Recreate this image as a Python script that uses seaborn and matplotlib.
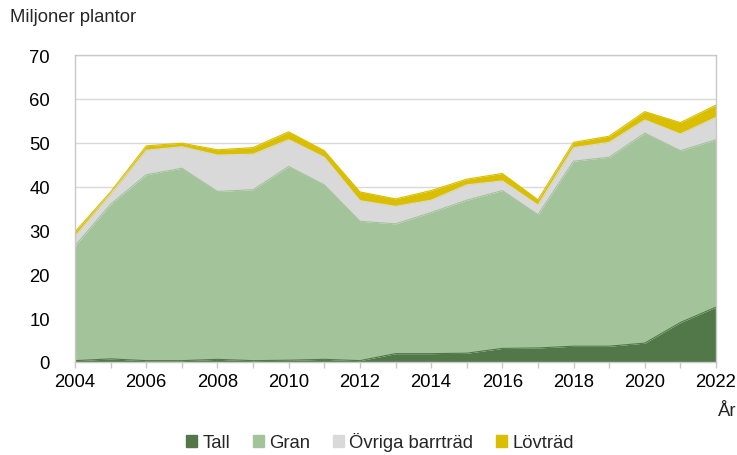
import numpy as np
import pandas as pd
import matplotlib
matplotlib.use("Agg")
import matplotlib.pyplot as plt
import matplotlib.patches as mpatches
import seaborn as sns

# data (miljoner plantor)
years = list(range(2004, 2023))
tall = [0.3, 0.7, 0.3, 0.3, 0.6, 0.3, 0.4, 0.6, 0.3, 1.9, 1.9, 2.0, 3.1, 3.2, 3.6, 3.6, 4.3, 9.0, 12.5]
gran = [26.2, 35.3, 42.4, 43.9, 38.3, 39.0, 44.2, 39.8, 31.8, 29.6, 32.2, 34.9, 36.0, 30.4, 42.2, 43.1, 47.9, 39.2, 38.2]
ovriga = [2.2, 2.2, 5.6, 4.9, 8.3, 8.1, 6.1, 6.3, 4.7, 4.0, 2.8, 3.5, 2.2, 2.2, 3.1, 3.4, 3.0, 3.8, 5.1]
lovtrad = [1.0, 0.6, 1.0, 0.8, 1.2, 1.5, 1.8, 1.5, 2.0, 1.7, 2.2, 1.3, 1.7, 1.2, 1.2, 1.4, 1.9, 2.6, 2.8]

namn = ["Tall", "Gran", "Övriga barrträd", "Lövträd"]
farger = ["#52784a", "#a3c39a", "#d9d9d9", "#d9bf00"]

df = pd.DataFrame({"År": years, "Tall": tall, "Gran": gran,
                   "Övriga barrträd": ovriga, "Lövträd": lovtrad})

sns.set_theme(style="white")
plt.rcParams['font.family'] = ['Liberation Sans', 'DejaVu Sans']
fs = 13.3

fig = plt.figure(figsize=(7.37, 4.56), dpi=100)
ax = fig.add_axes([0.1018, 0.204, 0.8697, 0.673])

ax.stackplot(df["År"], [df[n] for n in namn], colors=farger, linewidth=0)

# thin edges on the top of each layer
cum = df[namn].cumsum(axis=1)
for n, c in zip(namn, farger):
    sns.lineplot(x=df["År"], y=cum[n], color=c, linewidth=0.8, ax=ax)

ax.set_xlim(2004, 2022)
ax.set_ylim(0, 70)
ax.set_yticks(range(0, 71, 10))
ax.set_xticks(range(2004, 2023, 2))
ax.set_xticks(range(2004, 2023, 1), minor=True)
ax.yaxis.grid(True, color="#d9d9d9", linewidth=1)
ax.set_axisbelow(True)
ax.set_xlabel("")
ax.set_ylabel("")

for s in ax.spines.values():
    s.set_color("#c8c8c8")
    s.set_linewidth(1)
ax.tick_params(axis="x", which="both", bottom=True, direction="out",
               color="#c8c8c8", length=4, width=1)
ax.tick_params(axis="x", labelsize=fs, pad=4, labelcolor="black")
ax.tick_params(axis="y", labelsize=fs, left=False, pad=12, colors="black")

fig.text(10 / 737, 1 - 18 / 456, "Miljoner plantor", fontsize=fs, va="center", ha="left")
fig.text(727 / 737, 1 - 412 / 456, "År", fontsize=fs, va="center", ha="center")

handles = [mpatches.Patch(color=c, label=n) for n, c in zip(namn, farger)]
fig.legend(handles=handles, loc="center", bbox_to_anchor=(380 / 737, 1 - 443 / 456),
           ncol=4, frameon=False, fontsize=fs, handlelength=0.6, handleheight=0.6,
           handletextpad=0.3, columnspacing=1.2)

fig.savefig("out.png", dpi=100)
